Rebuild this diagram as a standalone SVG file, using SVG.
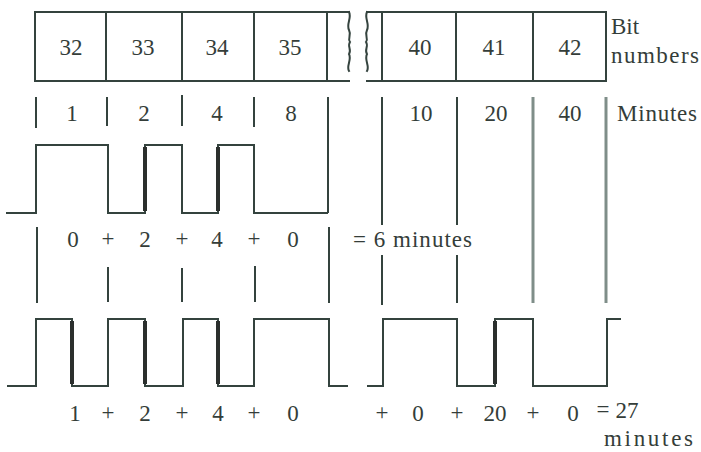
<svg xmlns="http://www.w3.org/2000/svg" width="701" height="452" viewBox="0 0 701 452">
<style>
.ln{fill:none;stroke:#34433e;stroke-width:2;stroke-linejoin:miter;stroke-linecap:square}
.tk{stroke:#34433e;stroke-width:2;fill:none}
.gr{stroke:#7f8e89;stroke-width:3;fill:none}
.th{stroke:#2b2f2d;stroke-width:4;fill:none}
text{font-family:"Liberation Serif","Times New Roman",serif;font-size:23px;fill:#343d39}
.c{text-anchor:middle}
.p{font-size:23px}
</style>
<rect width="701" height="452" fill="#ffffff"/>
<g id="bits-left">
<path class="ln" d="M349,12 H35 V81 H349"/>
<path class="ln" d="M349,12 c3,6 -3,12 0,18 c3,6 -2,8 1,12 c-3,4 2,8 -1,12 c3,6 -3,12 0,17"/>
<line class="tk" x1="106" y1="12" x2="106" y2="81"/>
<line class="tk" x1="182" y1="12" x2="182" y2="81"/>
<line class="tk" x1="254" y1="12" x2="254" y2="81"/>
<line class="tk" x1="327" y1="12" x2="327" y2="81"/>
<text class="c" x="71" y="55">32</text>
<text class="c" x="143" y="55">33</text>
<text class="c" x="217" y="55">34</text>
<text class="c" x="290" y="55">35</text>
</g>
<g id="bits-right">
<path class="ln" d="M367,12 H606 V81 H367"/>
<path class="ln" d="M367,12 c-3,6 3,12 0,18 c-3,6 2,8 -1,12 c3,4 -2,8 1,12 c-3,6 3,12 0,17"/>
<line class="tk" x1="382" y1="12" x2="382" y2="81"/>
<line class="tk" x1="456" y1="12" x2="456" y2="81"/>
<line class="tk" x1="533" y1="12" x2="533" y2="81"/>
<text class="c" x="420" y="55">40</text>
<text class="c" x="494" y="55">41</text>
<text class="c" x="570" y="55">42</text>
<text x="611" y="34">Bit</text>
<text x="611" y="63" textLength="88">numbers</text>
</g>
<g id="minutes-row">
<text class="c" x="72" y="121">1</text>
<text class="c" x="144" y="121">2</text>
<text class="c" x="217" y="121">4</text>
<text class="c" x="291" y="121">8</text>
<text class="c" x="421" y="121">10</text>
<text class="c" x="496" y="121">20</text>
<text class="c" x="570" y="121">40</text>
<text x="617" y="121" textLength="80">Minutes</text>
</g>
<g id="connectors">
<line class="tk" x1="36" y1="97" x2="36" y2="128"/>
<line class="tk" x1="107" y1="97" x2="107" y2="126"/>
<line class="tk" x1="182" y1="95" x2="182" y2="126"/>
<line class="tk" x1="254" y1="97" x2="254" y2="127"/>
<line class="tk" x1="328" y1="97" x2="328" y2="213"/>
<line class="tk" x1="382" y1="97" x2="382" y2="225"/>
<line class="tk" x1="457" y1="97" x2="457" y2="225"/>
<line class="gr" x1="533" y1="97" x2="533" y2="303"/>
<line class="gr" x1="606" y1="97" x2="606" y2="303"/>
<line class="tk" x1="37" y1="227" x2="37" y2="303"/>
<line class="tk" x1="329" y1="227" x2="329" y2="303"/>
<line class="tk" x1="108" y1="267" x2="108" y2="302"/>
<line class="tk" x1="182" y1="268" x2="182" y2="302"/>
<line class="tk" x1="255" y1="266" x2="255" y2="302"/>
<line class="tk" x1="382" y1="255" x2="382" y2="305"/>
<line class="tk" x1="457" y1="255" x2="457" y2="303"/>
</g>
<g id="wave-top">
<path class="ln" d="M7,213 H36 V145 H108 V213 H145 V145 H182 V213 H218 V145 H254 V213 H327"/>
<line class="th" x1="145" y1="147" x2="145" y2="211"/>
<line class="th" x1="218" y1="147" x2="218" y2="211"/>
</g>
<g id="wave-bottom">
<path class="ln" d="M8,386 H36 V319 H72 V386 H108 V319 H145 V386 H183 V319 H218 V386 H254 V319 H329 V386 H347"/>
<path class="ln" d="M368,386 H383 V319 H457 V386 H495 V319 H533 V386 H607 V319 H620"/>
<line class="th" x1="72" y1="321" x2="72" y2="384"/>
<line class="th" x1="145" y1="321" x2="145" y2="384"/>
<line class="th" x1="218" y1="321" x2="218" y2="384"/>
<line class="th" x1="495" y1="321" x2="495" y2="384"/>
</g>
<g id="sum-top">
<text class="c" x="73" y="247">0</text>
<text class="c p" x="108" y="246">+</text>
<text class="c" x="145" y="247">2</text>
<text class="c p" x="182" y="246">+</text>
<text class="c" x="217" y="247">4</text>
<text class="c p" x="254" y="246">+</text>
<text class="c" x="293" y="247">0</text>
<text x="353" y="247" textLength="119">= 6 minutes</text>
</g>
<g id="sum-bottom">
<text class="c" x="75" y="421">1</text>
<text class="c p" x="108" y="420">+</text>
<text class="c" x="145" y="421">2</text>
<text class="c p" x="182" y="420">+</text>
<text class="c" x="218" y="421">4</text>
<text class="c p" x="254" y="420">+</text>
<text class="c" x="293" y="421">0</text>
<text class="c p" x="382" y="420">+</text>
<text class="c" x="418" y="421">0</text>
<text class="c p" x="457" y="420">+</text>
<text class="c" x="495" y="421">20</text>
<text class="c p" x="533" y="420">+</text>
<text class="c" x="573" y="421">0</text>
<text class="c" x="603" y="417">=</text>
<text class="c" x="627" y="418">27</text>
<text x="604" y="446" textLength="89">minutes</text>
</g>
</svg>
